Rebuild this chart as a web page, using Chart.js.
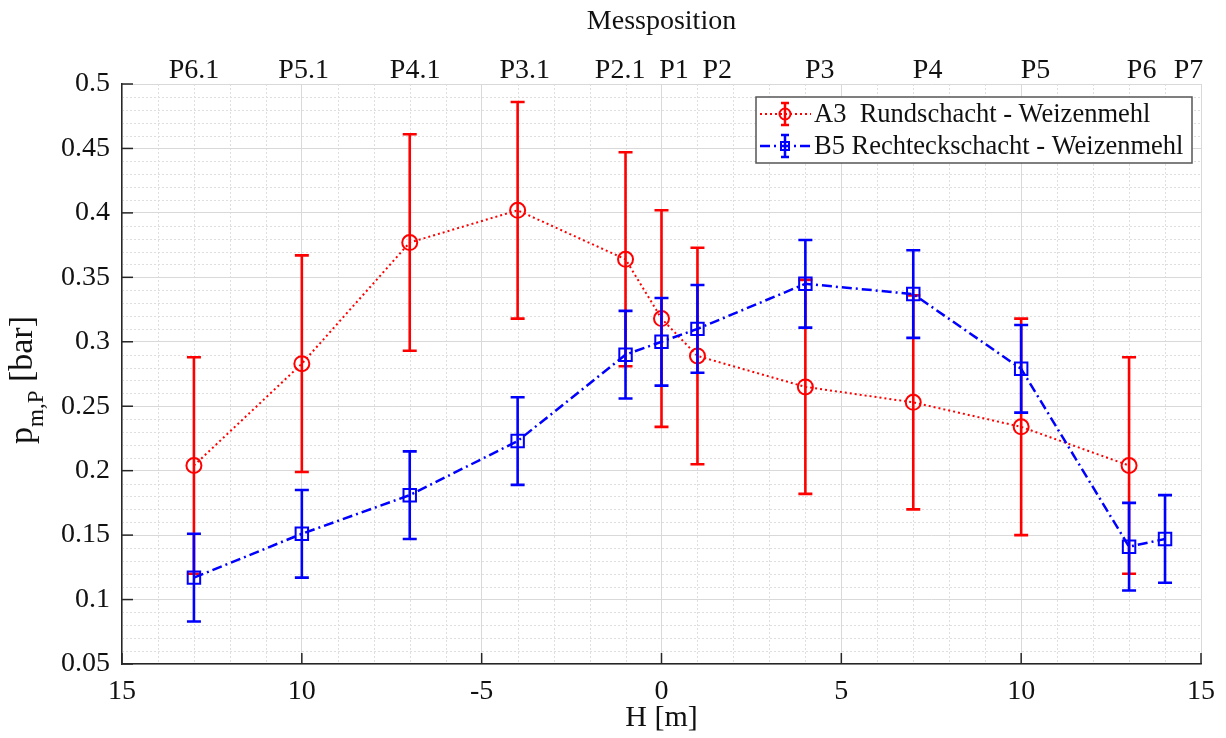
<!DOCTYPE html>
<html><head><meta charset="utf-8">
<script src="https://cdn.jsdelivr.net/npm/chart.js@4.4.0/dist/chart.umd.min.js"></script>
<style>html,body{margin:0;padding:0;background:#fff;}#wrap{width:1226px;height:738px;}</style>
</head><body><div id="wrap"><canvas id="c" width="1226" height="738"></canvas></div>
<script>
// ---- data ----
// top axis: where each Messposition label sits
const positionTickValues = [-13, -9.95, -6.85, -3.8, -1.15, 0.35, 1.55, 4.4, 7.4, 10.4, 13.35, 14.65];
const positionLabels = ['P6.1', 'P5.1', 'P4.1', 'P3.1', 'P2.1', 'P1', 'P2', 'P3', 'P4', 'P5', 'P6', 'P7'];
const xTickValues = [-15, -10, -5, 0, 5, 10, 15];
const xTickLabels = ['15', '10', '-5', '0', '5', '10', '15'];
const yTickValues = [0.05, 0.1, 0.15, 0.2, 0.25, 0.3, 0.35, 0.4, 0.45, 0.5];
const yTickLabels = ['0.05', '0.1', '0.15', '0.2', '0.25', '0.3', '0.35', '0.4', '0.45', '0.5'];

const labelA3 = 'A3  Rundschacht - Weizenmehl';
const hA3 = [-13, -10, -7, -4, -1, 0, 1, 4, 7, 10, 13];
const pA3 = [0.204, 0.283, 0.377, 0.402, 0.364, 0.318, 0.289, 0.265, 0.253, 0.234, 0.204];
const eA3 = [0.084, 0.084, 0.084, 0.084, 0.083, 0.084, 0.084, 0.083, 0.083, 0.084, 0.084];

const labelB5 = 'B5 Rechteckschacht - Weizenmehl';
const hB5 = [-13, -10, -7, -4, -1, 0, 1, 4, 7, 10, 13, 14];
const pB5 = [0.117, 0.151, 0.181, 0.223, 0.290, 0.300, 0.310, 0.345, 0.337, 0.279, 0.141, 0.147];
const eB5 = [0.034, 0.034, 0.034, 0.034, 0.034, 0.034, 0.034, 0.034, 0.034, 0.034, 0.034, 0.034];

const FONT = "'Liberation Serif', 'Times New Roman', serif";
const AXIS_COLOR = '#262626';

// ---- plugins ----
const minorGrid = {
  id: 'minorGrid',
  beforeDraw(chart) {
    const {ctx, chartArea: a, scales: {x, y}} = chart;
    ctx.save();
    ctx.strokeStyle = '#dedede';
    ctx.lineWidth = 1;
    ctx.setLineDash([2, 2]);
    for (let k = -15; k <= 15; k++) {
      if (k % 5 === 0) continue;
      const px = Math.round(x.getPixelForValue(k)) + 0.5;
      ctx.beginPath(); ctx.moveTo(px, a.top); ctx.lineTo(px, a.bottom); ctx.stroke();
    }
    for (let k = 5; k <= 50; k++) {
      if (k % 5 === 0) continue;
      const py = Math.round(y.getPixelForValue(k / 100)) + 0.5;
      ctx.beginPath(); ctx.moveTo(a.left, py); ctx.lineTo(a.right, py); ctx.stroke();
    }
    ctx.restore();
  }
};

const errorBars = {
  id: 'errorBars',
  beforeDatasetDraw(chart, args) {
    const ds = chart.data.datasets[args.index];
    if (!ds.errors) return;
    const {ctx, scales: {y}} = chart;
    ctx.save();
    ctx.strokeStyle = ds.borderColor;
    ctx.lineWidth = 2.6;
    ctx.setLineDash([]);
    args.meta.data.forEach((el, i) => {
      const v = ds.data[i].y, e = ds.errors[i];
      const yt = y.getPixelForValue(v + e), yb = y.getPixelForValue(v - e);
      const cx = el.x, w = 7;
      ctx.beginPath();
      ctx.moveTo(cx, yt); ctx.lineTo(cx, yb);
      ctx.moveTo(cx - w, yt); ctx.lineTo(cx + w, yt);
      ctx.moveTo(cx - w, yb); ctx.lineTo(cx + w, yb);
      ctx.stroke();
    });
    ctx.restore();
  }
};

const decorations = {
  id: 'decorations',
  afterDraw(chart) {
    const {ctx, chartArea: a, scales: {x, y}} = chart;
    ctx.save();
    // inside ticks
    ctx.strokeStyle = AXIS_COLOR; ctx.lineWidth = 1.5; ctx.setLineDash([]);
    y.ticks.forEach(t => {
      const py = y.getPixelForValue(t.value);
      ctx.beginPath(); ctx.moveTo(a.left, py); ctx.lineTo(a.left + 11, py); ctx.stroke();
    });
    x.ticks.forEach(t => {
      const px = x.getPixelForValue(t.value);
      ctx.beginPath(); ctx.moveTo(px, a.bottom); ctx.lineTo(px, a.bottom - 11); ctx.stroke();
    });
    // y axis title with subscript
    ctx.fillStyle = '#111';
    ctx.textBaseline = 'alphabetic';
    const big = '34px ' + FONT, small = '23px ' + FONT;
    const parts = [['p', big, 0], ['m,P', small, 11], [' [bar]', big, 0]];
    let total = 0;
    parts.forEach(p => { ctx.font = p[1]; total += ctx.measureText(p[0]).width; });
    ctx.translate(32, (a.top + a.bottom) / 2 + 6);
    ctx.rotate(-Math.PI / 2);
    let cx = -total / 2;
    parts.forEach(p => {
      ctx.font = p[1];
      ctx.fillText(p[0], cx, p[2]);
      cx += ctx.measureText(p[0]).width;
    });
    ctx.setTransform(1, 0, 0, 1, 0, 0);
    // legend
    const lx = 756, ly = 97, lw = 436, lh = 66;
    ctx.fillStyle = '#fff';
    ctx.fillRect(lx, ly, lw, lh);
    ctx.strokeStyle = '#555'; ctx.lineWidth = 1.5;
    ctx.strokeRect(lx, ly, lw, lh);
    chart.data.datasets.forEach((ds, i) => {
      const cy = ly + 17 + i * 32;
      ctx.strokeStyle = ds.borderColor;
      ctx.lineWidth = ds.borderWidth;
      ctx.setLineDash(ds.borderDash);
      ctx.beginPath(); ctx.moveTo(760, cy); ctx.lineTo(811, cy); ctx.stroke();
      ctx.setLineDash([]);
      ctx.lineWidth = 2.5;
      ctx.beginPath();
      ctx.moveTo(785, cy - 11); ctx.lineTo(785, cy + 11);
      ctx.moveTo(781, cy - 11); ctx.lineTo(789, cy - 11);
      ctx.moveTo(781, cy + 11); ctx.lineTo(789, cy + 11);
      ctx.stroke();
      ctx.lineWidth = 2;
      ctx.beginPath();
      if (ds.pointStyle === 'circle') ctx.arc(785, cy, 5.5, 0, Math.PI * 2);
      else ctx.rect(781, cy - 4, 8, 8);
      ctx.stroke();
      ctx.fillStyle = '#111';
      ctx.font = '26.5px ' + FONT;
      ctx.textBaseline = 'middle';
      ctx.fillText(ds.label, 814, cy + 1);
    });
    ctx.restore();
  }
};

// ---- chart ----
Chart.defaults.font.family = FONT;
Chart.defaults.color = '#111';

new Chart(document.getElementById('c'), {
  type: 'scatter',
  data: {
    datasets: [
      {
        label: labelA3,
        data: hA3.map((h, i) => ({x: h, y: pA3[i]})),
        errors: eA3,
        showLine: true,
        borderColor: '#ff0000',
        borderWidth: 2,
        borderDash: [2, 3],
        pointStyle: 'circle',
        pointRadius: 7.5,
        pointBorderWidth: 2,
        pointBorderColor: '#ff0000',
        pointBackgroundColor: 'rgba(0,0,0,0)',
        order: 2
      },
      {
        label: labelB5,
        data: hB5.map((h, i) => ({x: h, y: pB5[i]})),
        errors: eB5,
        showLine: true,
        borderColor: '#0000ff',
        borderWidth: 2.5,
        borderDash: [10, 4, 2, 4],
        pointStyle: 'rect',
        pointRadius: 8.8,
        pointBorderWidth: 2,
        pointBorderColor: '#0000ff',
        pointBackgroundColor: 'rgba(0,0,0,0)',
        order: 1
      }
    ]
  },
  options: {
    responsive: false,
    animation: false,
    events: [],
    layout: {padding: {left: 0, right: 21, top: 0, bottom: 0}},
    plugins: {legend: {display: false}, tooltip: {enabled: false}},
    scales: {
      x: {
        type: 'linear', position: 'bottom', min: -15, max: 15,
        afterBuildTicks: s => { s.ticks = xTickValues.map(v => ({value: v})); },
        afterFit: s => { s.height = 74; },
        ticks: {
          autoSkip: false, maxRotation: 0, padding: 11,
          font: {size: 28}, color: '#111',
          callback: (v, i) => xTickLabels[i]
        },
        grid: {color: '#d9d9d9', lineWidth: 1, drawTicks: false},
        border: {display: true, color: AXIS_COLOR, width: 1.5},
        title: {display: true, text: 'H [m]', font: {size: 30}, color: '#111', padding: {top: 0, bottom: 2}}
      },
      xTop: {
        type: 'linear', position: 'top', min: -15, max: 15,
        afterBuildTicks: s => { s.ticks = positionTickValues.map(v => ({value: v})); },
        afterFit: s => { s.height = 84; },
        ticks: {
          autoSkip: false, maxRotation: 0, padding: -3,
          font: {size: 28}, color: '#111',
          callback: (v, i) => positionLabels[i]
        },
        grid: {display: false, drawTicks: false},
        border: {display: false},
        title: {display: true, text: 'Messposition', font: {size: 28}, color: '#111', padding: {top: 5, bottom: 0}}
      },
      y: {
        type: 'linear', position: 'left', min: 0.05, max: 0.5,
        afterBuildTicks: s => { s.ticks = yTickValues.map(v => ({value: v})); },
        afterFit: s => { s.width = 122; },
        ticks: {
          padding: 12, font: {size: 28}, color: '#111',
          callback: (v, i) => yTickLabels[i]
        },
        grid: {color: '#d9d9d9', lineWidth: 1, drawTicks: false},
        border: {display: true, color: AXIS_COLOR, width: 1.5}
      }
    }
  },
  plugins: [minorGrid, errorBars, decorations]
});
</script>
</body></html>
